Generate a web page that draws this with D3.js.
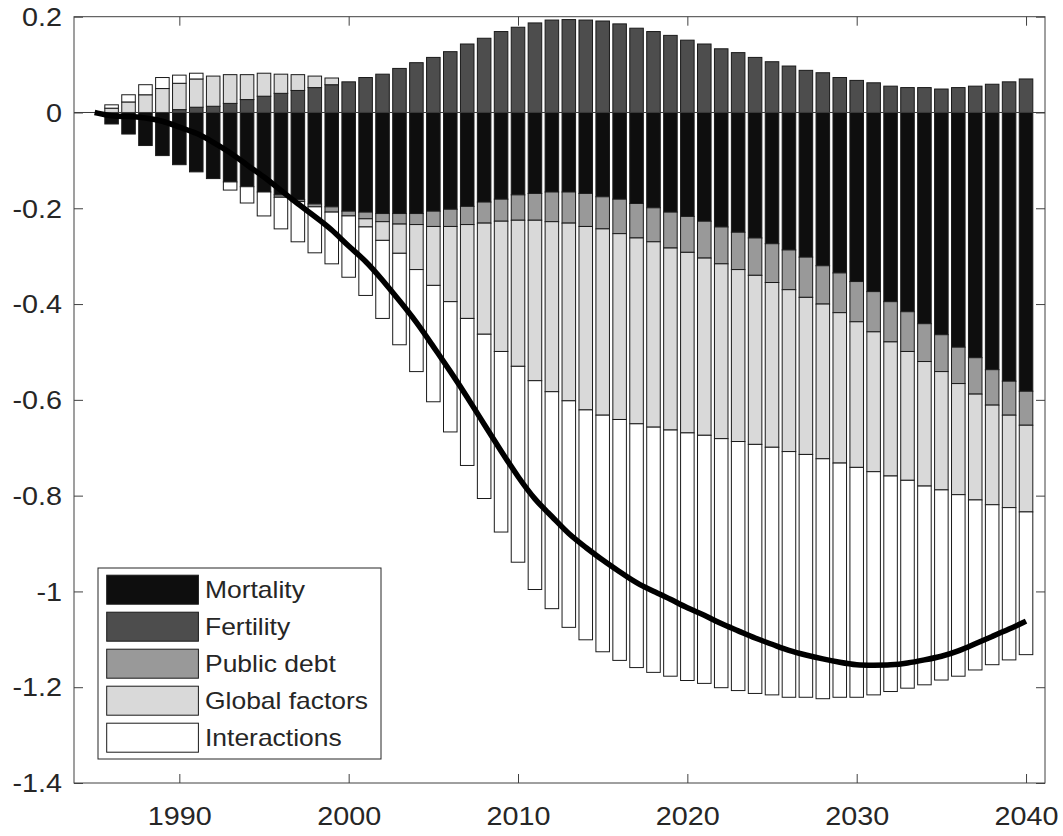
<!DOCTYPE html>
<html>
<head>
<meta charset="utf-8">
<script src="https://cdn.jsdelivr.net/npm/d3@7"></script>
<style>
  html, body { margin: 0; padding: 0; background: #fff; }
  svg { display: block; }
  text { font-family: "Liberation Sans", Arial, Helvetica, sans-serif; fill: #262626; }
</style>
</head>
<body>
<svg id="chart" width="1063" height="836"></svg>
<script>
// Contributions to the projected change, by year (1986-2040)
const years = d3.range(1986, 2041);

const seriesNames = ["Mortality", "Fertility", "Public debt", "Global factors", "Interactions"];

const mortality = [
  -0.024, -0.045, -0.069, -0.090, -0.109, -0.124, -0.138, -0.145, -0.155, -0.166,
  -0.172, -0.182, -0.191, -0.197, -0.206, -0.208, -0.211, -0.211, -0.211, -0.206,
  -0.202, -0.196, -0.187, -0.181, -0.172, -0.169, -0.166, -0.166, -0.169, -0.176,
  -0.181, -0.190, -0.199, -0.208, -0.217, -0.227, -0.239, -0.250, -0.262, -0.274,
  -0.287, -0.302, -0.320, -0.335, -0.353, -0.374, -0.395, -0.416, -0.441, -0.464,
  -0.490, -0.512, -0.537, -0.561, -0.582
];
const fertility = [
  0, 0, 0, 0, 0.006, 0.011, 0.013, 0.019, 0.027, 0.034,
  0.040, 0.046, 0.052, 0.058, 0.064, 0.073, 0.080, 0.092, 0.104, 0.115,
  0.127, 0.143, 0.155, 0.169, 0.178, 0.187, 0.193, 0.194, 0.193, 0.191,
  0.185, 0.176, 0.169, 0.161, 0.151, 0.143, 0.133, 0.125, 0.115, 0.106,
  0.097, 0.088, 0.083, 0.073, 0.067, 0.062, 0.055, 0.052, 0.052, 0.049,
  0.052, 0.055, 0.059, 0.064, 0.070
];
const publicDebt = [
  0, 0, 0, 0, 0, 0, 0, 0, 0, 0,
  -0.005, -0.004, -0.006, -0.011, -0.010, -0.014, -0.017, -0.022, -0.023, -0.032,
  -0.036, -0.038, -0.044, -0.046, -0.053, -0.056, -0.062, -0.065, -0.069, -0.067,
  -0.072, -0.072, -0.071, -0.075, -0.075, -0.077, -0.077, -0.078, -0.078, -0.081,
  -0.083, -0.084, -0.080, -0.083, -0.084, -0.084, -0.084, -0.083, -0.079, -0.077,
  -0.076, -0.076, -0.074, -0.071, -0.071
];
const globalFactors = [
  0.009, 0.022, 0.037, 0.050, 0.055, 0.059, 0.063, 0.060, 0.052, 0.048,
  0.040, 0.033, 0.024, 0.014, 0, -0.017, -0.039, -0.061, -0.094, -0.123,
  -0.157, -0.196, -0.232, -0.272, -0.305, -0.335, -0.355, -0.371, -0.383, -0.389,
  -0.388, -0.388, -0.387, -0.380, -0.377, -0.370, -0.365, -0.359, -0.353, -0.344,
  -0.338, -0.328, -0.323, -0.314, -0.304, -0.292, -0.280, -0.269, -0.260, -0.247,
  -0.232, -0.221, -0.208, -0.193, -0.181
];
const interactions = [
  0.007, 0.015, 0.021, 0.023, 0.017, 0.012, 0, -0.017, -0.034, -0.050,
  -0.066, -0.084, -0.096, -0.108, -0.128, -0.143, -0.163, -0.191, -0.213, -0.243,
  -0.272, -0.307, -0.343, -0.377, -0.409, -0.436, -0.453, -0.473, -0.480, -0.494,
  -0.503, -0.509, -0.512, -0.514, -0.517, -0.518, -0.520, -0.520, -0.520, -0.517,
  -0.513, -0.507, -0.501, -0.489, -0.480, -0.466, -0.450, -0.434, -0.415, -0.397,
  -0.379, -0.355, -0.334, -0.318, -0.298
];

// The total line starts from zero in the base year
const baseYear = 1985;
const baseValue = 0;

const xTicks = [1990, 2000, 2010, 2020, 2030, 2040];
const yTicks = [0.2, 0, -0.2, -0.4, -0.6, -0.8, -1, -1.2, -1.4];

const seriesValues = [mortality, fertility, publicDebt, globalFactors, interactions];
const fills = ["#0e0e0e", "#4d4d4d", "#999999", "#d9d9d9", "#ffffff"];

const rows = years.map((yr, i) => {
  const r = { year: yr };
  seriesNames.forEach((name, s) => { r[name] = seriesValues[s][i]; });
  return r;
});

// Layout
const plot = { left: 74, right: 1045, top: 16.7, bottom: 783 };
const TEXT_STRETCH = 1.15;

const x = d3.scaleLinear().domain([1983.78, 2041.12]).range([plot.left, plot.right]);
const y = d3.scaleLinear().domain([-1.4, 0.2]).range([plot.bottom, plot.top]);
const barWidth = 0.8 * (x(1) - x(0));

const svg = d3.select("#chart");

// Stacked bars: positives stack upward, negatives downward, in series order
const stacked = d3.stack().keys(seriesNames).offset(d3.stackOffsetDiverging)(rows);

const barsG = svg.append("g").attr("class", "bars");
stacked.forEach((layer, s) => {
  barsG.append("g")
    .attr("fill", fills[s])
    .attr("stroke", "#1a1a1a")
    .attr("stroke-width", 1)
    .selectAll("rect")
    .data(layer.filter(d => d[1] - d[0] !== 0))
    .join("rect")
      .attr("x", d => x(d.data.year) - barWidth / 2)
      .attr("y", d => y(Math.max(d[0], d[1])))
      .attr("width", barWidth)
      .attr("height", d => Math.abs(y(d[0]) - y(d[1])));
});

// Baseline at zero
svg.append("line")
  .attr("x1", plot.left).attr("x2", plot.right)
  .attr("y1", y(0)).attr("y2", y(0))
  .attr("stroke", "#3a3a3a").attr("stroke-width", 1);

// Net total line (sum of the five contributions)
const totals = [{ year: baseYear, value: baseValue }].concat(
  rows.map(r => ({ year: r.year, value: d3.sum(seriesNames, n => r[n]) }))
);
svg.append("path")
  .datum(totals)
  .attr("fill", "none")
  .attr("stroke", "#000")
  .attr("stroke-width", 5.5)
  .attr("d", d3.line().x(d => x(d.year)).y(d => y(d.value)).curve(d3.curveBasis));

// Axes with inward ticks on all four sides
const fmt = v => (v === 0 ? "0" : String(v));
const axisColor = "#404040";

function styleAxis(g) {
  g.select(".domain").remove();
  g.selectAll(".tick line").attr("stroke", axisColor).attr("stroke-width", 1);
}

const gLeft = svg.append("g").attr("transform", `translate(${plot.left},0)`)
  .call(d3.axisLeft(y).tickValues(yTicks).tickFormat(fmt).tickSize(-9).tickSizeOuter(0));
styleAxis(gLeft);
gLeft.selectAll(".tick text")
  .attr("x", null).attr("dy", "0.35em")
  .attr("text-anchor", "end")
  .attr("font-size", 25)
  .attr("transform", `translate(-12,0) scale(${TEXT_STRETCH},1)`);

const gBottom = svg.append("g").attr("transform", `translate(0,${plot.bottom})`)
  .call(d3.axisBottom(x).tickValues(xTicks).tickFormat(d3.format("d")).tickSize(-9).tickSizeOuter(0));
styleAxis(gBottom);
gBottom.selectAll(".tick text")
  .attr("y", null).attr("dy", null)
  .attr("text-anchor", "middle")
  .attr("font-size", 25)
  .attr("transform", `translate(0,42) scale(${TEXT_STRETCH},1)`);

const gTop = svg.append("g").attr("transform", `translate(0,${plot.top})`)
  .call(d3.axisTop(x).tickValues(xTicks).tickFormat("").tickSize(-9).tickSizeOuter(0));
styleAxis(gTop);

const gRight = svg.append("g").attr("transform", `translate(${plot.right},0)`)
  .call(d3.axisRight(y).tickValues(yTicks).tickFormat("").tickSize(-9).tickSizeOuter(0));
styleAxis(gRight);

// Axes box
svg.append("rect")
  .attr("x", plot.left).attr("y", plot.top)
  .attr("width", plot.right - plot.left).attr("height", plot.bottom - plot.top)
  .attr("fill", "none").attr("stroke", axisColor).attr("stroke-width", 1);

// Legend
const legend = svg.append("g").attr("class", "legend");
legend.append("rect")
  .attr("x", 98).attr("y", 568).attr("width", 283).attr("height", 191)
  .attr("fill", "#fff").attr("stroke", "#262626").attr("stroke-width", 1);

const items = legend.selectAll("g.item")
  .data(seriesNames)
  .join("g")
    .attr("class", "item")
    .attr("transform", (d, i) => `translate(0,${589.7 + 37 * i})`);

items.append("rect")
  .attr("x", 106.7).attr("y", -14.5).attr("width", 91.7).attr("height", 29)
  .attr("fill", (d, i) => fills[i])
  .attr("stroke", "#1a1a1a").attr("stroke-width", 1);

items.append("text")
  .attr("dy", "0.35em")
  .attr("font-size", 23)
  .attr("transform", `translate(205,0) scale(${TEXT_STRETCH},1)`)
  .text(d => d);
</script>
</body>
</html>
